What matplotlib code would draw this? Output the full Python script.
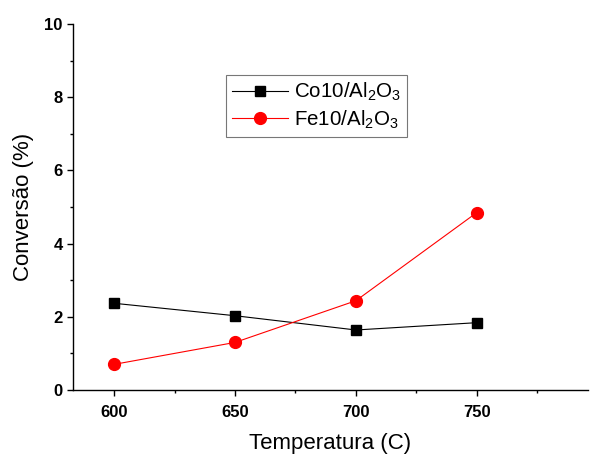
import matplotlib
matplotlib.use('Agg')
import matplotlib.pyplot as plt
from matplotlib.ticker import MultipleLocator

plt.rcParams['font.family'] = ['Liberation Sans', 'DejaVu Sans']
plt.rcParams['mathtext.fontset'] = 'custom'
plt.rcParams['mathtext.rm'] = 'Liberation Sans'
plt.rcParams['mathtext.default'] = 'regular'

# temperatures and conversions
temperatura = [600, 650, 700, 750]
co10 = [2.37, 2.03, 1.64, 1.84]
fe10 = [0.70, 1.30, 2.44, 4.85]
labels = [r'Co10/Al$_2$O$_3$', r'Fe10/Al$_2$O$_3$']

fig = plt.figure(figsize=(5.9, 4.55), dpi=100)
ax = fig.add_axes([0.1237, 0.1429, 0.873, 0.804])

ax.plot(temperatura, co10, '-s', color='black', lw=0.8, markersize=7.5, label=labels[0])
ax.plot(temperatura, fe10, '-o', color='red', lw=0.8, markersize=8.5, label=labels[1])

ax.set_xlim(583, 796)
ax.set_ylim(0, 10)
ax.xaxis.set_major_locator(MultipleLocator(50))
ax.xaxis.set_minor_locator(MultipleLocator(25))
ax.yaxis.set_major_locator(MultipleLocator(2))
ax.yaxis.set_minor_locator(MultipleLocator(1))

ax.spines['top'].set_visible(False)
ax.spines['right'].set_visible(False)
for s in ['left', 'bottom']:
    ax.spines[s].set_linewidth(1.0)
ax.tick_params(which='major', direction='out', length=4.5, width=1.0, pad=3)
ax.tick_params(axis='x', which='major', pad=6)
ax.tick_params(which='minor', direction='out', length=2.5, width=1.0)
for lbl in ax.get_xticklabels() + ax.get_yticklabels():
    lbl.set_fontsize(12)
    lbl.set_fontweight('bold')

ax.set_xlabel('Temperatura (C)', fontsize=16, labelpad=9.5)
ax.set_ylabel('Conversão (%)', fontsize=16, labelpad=7)

leg = ax.legend(loc='upper left', bbox_to_anchor=(0.297, 0.862), fontsize=14.8,
                frameon=True, fancybox=False, edgecolor='#555555',
                handlelength=2.7, handletextpad=0.3, borderpad=0.3,
                labelspacing=0.25, borderaxespad=0)
leg.get_frame().set_linewidth(0.8)

fig.savefig('out.png', dpi=100)
